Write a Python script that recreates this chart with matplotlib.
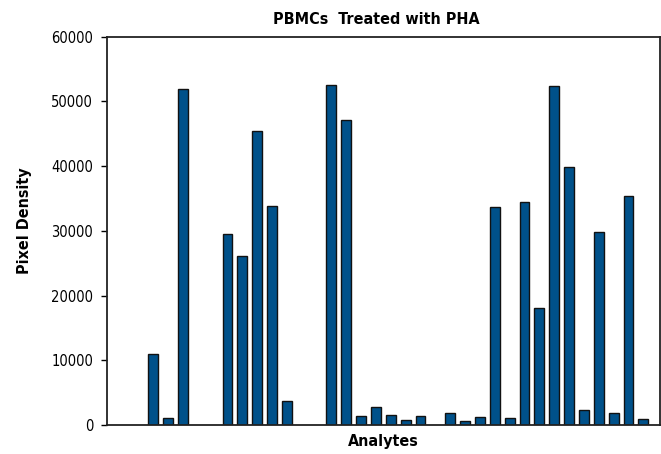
import matplotlib
matplotlib.use("Agg")
import matplotlib.pyplot as plt

plt.rcParams['font.family'] = ['DejaVu Sans']
plt.rcParams['font.stretch'] = 'condensed'

# slot index of each analyte bar along the x axis (gaps are empty slots)
slots = [0, 1, 2, 5, 6, 7, 8, 9, 12, 13, 14, 15, 16, 17, 18,
         20, 21, 22, 23, 24, 25, 26, 27, 28, 29, 30, 31, 32, 33]
density = [10900, 1100, 51900, 29500, 26100, 45500, 33800, 3700, 52500, 47100,
           1400, 2700, 1500, 700, 1400,
           1900, 600, 1200, 33700, 1100, 34400, 18000, 52400, 39800, 2300,
           29900, 1900, 35400, 900]
yticks = [0, 10000, 20000, 30000, 40000, 50000, 60000]

fig = plt.figure(figsize=(6.61, 4.54), dpi=100)
ax = fig.add_axes([0.162, 0.064, 0.836, 0.855])

ax.bar(slots, density, width=0.66, color='#00518a', edgecolor='#111111', linewidth=1.0)

ax.set_xlim(-3.1, 34.1)
ax.set_ylim(0, 60000)
ax.set_yticks(yticks)
ax.set_yticklabels([str(v) for v in yticks], fontsize=10.5)
ax.set_xticks([])
ax.tick_params(axis='y', direction='out', length=4.5, width=1, pad=5.5)

for s in ['left', 'bottom', 'top', 'right']:
    ax.spines[s].set_color('#222222')
    ax.spines[s].set_linewidth(1.3)

ax.set_title('PBMCs  Treated with PHA', fontsize=11.5, fontweight='bold', pad=9, x=0.488)
ax.set_xlabel('Analytes', fontsize=11.5, fontweight='bold', labelpad=6.5)
ax.set_ylabel('Pixel Density', fontsize=11.5, fontweight='bold')
ax.yaxis.set_label_coords(-0.135, 0.526)

fig.savefig('out.png', dpi=100)
